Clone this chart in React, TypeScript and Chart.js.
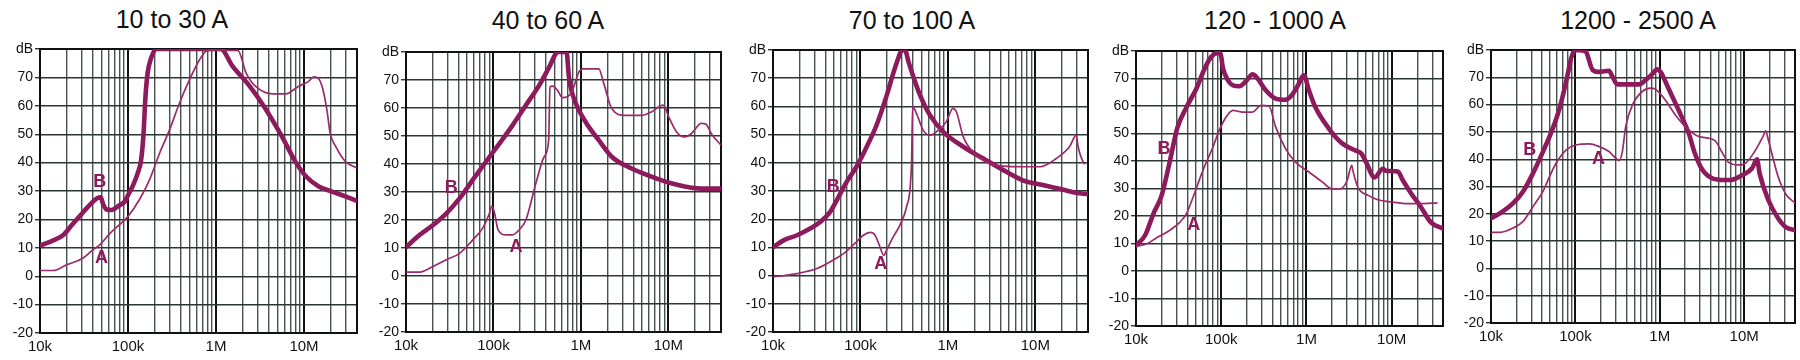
import React, { useEffect, useRef } from 'react';
import { Chart, registerables } from 'chart.js';

Chart.register(...registerables);

type Pt = [number, number];

// ---------- axis definitions ----------
const gridFreqs: number[] = [
  1e4, 2e4, 3e4, 4e4, 5e4, 6e4, 7e4, 8e4, 9e4,
  1e5, 2e5, 3e5, 4e5, 5e5, 6e5, 7e5, 8e5, 9e5,
  1e6, 2e6, 3e6, 4e6, 5e6, 6e6, 7e6, 8e6, 9e6,
  1e7, 2e7, 3e7, 4e7,
];
const decadeFreqs: number[] = [1e4, 1e5, 1e6, 1e7];
const decadeLabels: string[] = ['10k', '100k', '1M', '10M'];
const yTickValues: number[] = [-20, -10, 0, 10, 20, 30, 40, 50, 60, 70, 80];
const yTopLabel = 'dB';
const titles: string[] = ['10 to 30 A', '40 to 60 A', '70 to 100 A', '120 - 1000 A', '1200 - 2500 A'];

// ---------- series: [frequency Hz, attenuation dB] ----------
const p1A: Pt[] = [[1e4,2],[1.42e4,2],[2e4,4],[3.1e4,6.4],[4e4,9.3],[4.8e4,11.1],[6.2e4,15],[8.8e4,19.3],[1e5,21],[1.35e5,27],[1.76e5,34],[2.29e5,43.4],[2.97e5,51.6],[3.85e5,61],[5e5,69.2],[6.5e5,76.2],[7.7e5,79.2],[9e5,79.6],[1.77e6,79.5],[2.2e6,71.5],[2.8e6,66.9],[4.4e6,64.2],[6.2e6,64.2],[8.7e6,66.9],[1.13e7,68.6],[1.29e7,70.2],[1.41e7,70],[1.6e7,67],[1.82e7,58.6],[1.98e7,50.4],[2.29e7,45.7],[2.95e7,40.4],[4e7,38.1]];
const p1B: Pt[] = [[1e4,10.8],[1.4e4,12.5],[1.84e4,14.5],[2.3e4,18],[2.8e4,21],[3.7e4,25.2],[4.5e4,27.5],[4.9e4,27.8],[5.2e4,25.5],[5.7e4,23.5],[6.5e4,23.3],[8e4,25],[9.2e4,26.3],[1e5,28.5],[1.14e5,32],[1.29e5,36.3],[1.41e5,41],[1.5e5,50],[1.57e5,62],[1.67e5,71.5],[1.84e5,77],[2.09e5,80],[1.13e6,80],[1.54e6,74],[2.4e6,67],[3.6e6,59.2],[5.6e6,49.2],[8.1e6,40],[1.05e7,35.2],[1.47e7,31.6],[2.04e7,29.9],[2.95e7,28.1],[4e7,26.5]];

const p2A: Pt[] = [[1e4,1.4],[1.44e4,1.4],[2.04e4,3.4],[2.9e4,5.8],[4.1e4,8.1],[5.8e4,12.9],[7.5e4,17],[9e4,22.4],[9.6e4,25],[1.03e5,22.4],[1.13e5,16.5],[1.4e5,14.7],[1.66e5,14.7],[1.97e5,16.5],[2.35e5,20],[3.05e5,33],[3.8e5,42.6],[4.28e5,48.5],[4.43e5,67.5],[4.75e5,67.8],[5.4e5,66.3],[6.15e5,63.7],[7e5,64],[8e5,66.3],[9.5e5,72.9],[1.05e6,74],[1.6e6,74],[1.83e6,68.7],[2.25e6,59.8],[3.2e6,57.4],[5e6,57.4],[6.4e6,58.6],[8e6,60.6],[8.7e6,61],[1.03e7,56.2],[1.28e7,50.9],[1.53e7,49.7],[1.84e7,50.9],[2.38e7,54.5],[2.7e7,54.2],[3.09e7,50.9],[4e7,46.7]];
const p2B: Pt[] = [[1e4,10.3],[1.44e4,14.7],[2.04e4,18.2],[2.9e4,22.4],[4.1e4,27.7],[5.8e4,34.3],[8.2e4,40.8],[1.17e5,47.3],[1.66e5,53.9],[2.35e5,61],[3.33e5,68.1],[4.35e5,74.7],[5.18e5,79.5],[5.4e5,80],[6.85e5,80],[7.3e5,71],[8e5,65],[9.5e5,59.2],[1.23e6,53.3],[1.6e6,48.5],[2.25e6,42.6],[3.8e6,38.4],[6.4e6,35.5],[1.08e7,33.1],[1.84e7,31.5],[2.38e7,31.2],[4e7,31.2]];

const p3A: Pt[] = [[1e4,-0.5],[1.88e4,0.7],[3.18e4,2.5],[4.5e4,4.9],[6.4e4,7.8],[9e4,12],[1.08e5,14.3],[1.29e5,15.3],[1.47e5,14.3],[1.67e5,10.2],[1.85e5,7.2],[2e5,9.2],[2.37e5,13.7],[2.83e5,17.9],[3.37e5,24.4],[3.84e5,39.8],[3.95e5,60],[4.37e5,57.5],[5.2e5,51.6],[6.23e5,49.8],[7.4e5,51],[9.6e5,54.6],[1.14e6,59.3],[1.25e6,58.1],[1.5e6,49.2],[2.1e6,42.7],[3e6,39.8],[4.3e6,38.8],[7.2e6,38.6],[1.13e7,38.6],[1.73e7,41.5],[2.46e7,45.7],[2.94e7,49.8],[3.08e7,45.7],[3.5e7,40.4],[3.7e7,39.5]];
const p3B: Pt[] = [[1e4,10],[1.32e4,12.5],[1.88e4,14.3],[2.66e4,16.7],[3.46e4,19],[4.5e4,22.6],[5.35e4,26.7],[6.98e4,33.3],[9e4,38.6],[1.18e5,45.7],[1.53e5,53.4],[2e5,64],[2.37e5,71.7],[2.7e5,77],[2.95e5,79.8],[3.23e5,80],[3.54e5,75.9],[4.03e5,70.5],[4.8e5,64],[6.23e5,56.9],[8.85e5,51],[1.5e6,45.7],[2.54e6,41.5],[4.3e6,37.4],[7.2e6,33.8],[1.22e7,32.1],[2.05e7,30.5],[2.9e7,29.4],[4e7,28.9]];

const p4A: Pt[] = [[1e4,9],[1.34e4,9.9],[1.75e4,12.1],[2.5e4,14.8],[3.28e4,17.8],[3.9e4,20.8],[4.68e4,26.9],[6.1e4,36.6],[8e4,45.1],[9.5e4,51.2],[1.14e5,56],[1.37e5,58.4],[1.79e5,57.8],[2.33e5,57.8],[2.93e5,60.2],[3.64e5,59.9],[4.35e5,52.4],[5.68e5,44.5],[7.43e5,39.6],[1.07e6,36],[1.53e6,32.4],[2e6,29.9],[2.5e6,29.9],[3e6,32.9],[3.4e6,38.4],[3.5e6,36.6],[4e6,30.5],[5.3e6,27.5],[6.9e6,25.9],[1e7,25.1],[1.56e7,24.5],[2.2e7,24.5],[3.45e7,24.8]];
const p4B: Pt[] = [[1e4,9.3],[1.28e4,13],[1.6e4,20.8],[2e4,27.5],[2.5e4,40],[3.05e4,52],[3.9e4,59.5],[5.1e4,66.3],[6.4e4,73.6],[7.6e4,77.8],[9.1e4,79.3],[9.8e4,79],[1.05e5,73.6],[1.2e5,69.3],[1.37e5,67.5],[1.64e5,67.2],[1.95e5,69],[2.33e5,71.5],[2.67e5,70],[3.33e5,65.7],[4.35e5,62.7],[5.68e5,62.3],[6.83e5,64.2],[8.13e5,68.1],[9.3e5,71.2],[1.07e6,65.7],[1.27e6,59.6],[1.83e6,51.8],[2.6e6,46.5],[3.7e6,43.9],[4.4e6,42.7],[5e6,39.6],[6.3e6,34],[7.9e6,37.2],[8.6e6,36.4],[1.18e7,36.2],[1.35e7,33],[1.7e7,28.1],[2.2e7,23.3],[2.86e7,17.8],[4e7,15.4]];

const p5A: Pt[] = [[1e4,13.2],[1.28e4,13.2],[1.83e4,14.8],[2.4e4,17.2],[3.15e4,22.7],[4.13e4,28.2],[4.95e4,33.7],[5.9e4,38.5],[7.8e4,43.4],[1.01e5,45.2],[1.46e5,45.6],[1.92e5,44.6],[2.5e5,42.8],[3e5,40.4],[3.3e5,39.5],[3.6e5,42.8],[3.95e5,52],[4.75e5,59.9],[6.2e5,64.8],[7.8e5,66],[8.9e5,65.6],[1.16e6,61.7],[1.53e6,56.2],[2.2e6,50.7],[2.9e6,48.3],[4.5e6,46.8],[5.4e6,42.8],[6.5e6,38.9],[8.5e6,37.9],[1e7,38.2],[1.33e7,42.8],[1.67e7,48.3],[1.8e7,50.4],[1.93e7,47.1],[2.52e7,33.7],[3.15e7,27],[4e7,24]];
const p5B: Pt[] = [[1e4,18.4],[1.28e4,20.2],[1.83e4,23.9],[2.4e4,28.2],[3.15e4,34.9],[4.13e4,42.8],[5.4e4,51.3],[6.5e4,58.7],[8e4,70.2],[8.9e4,77],[1e5,80],[1.22e5,79.8],[1.33e5,79.4],[1.6e5,72.7],[1.9e5,72],[2.5e5,72.4],[2.75e5,70.2],[3.15e5,67.4],[3.95e5,67.4],[5.65e5,67.4],[6.8e5,69],[8.15e5,71.2],[9.3e5,72.9],[1.02e6,72],[1.29e6,65.4],[1.67e6,58],[2.2e6,49.5],[2.6e6,42.2],[3.2e6,36.1],[4.2e6,33],[5.9e6,32.4],[7e6,32.4],[9.3e6,34],[1.24e7,36.7],[1.42e7,40],[1.52e7,34.9],[1.93e7,25.1],[2.52e7,18.4],[3.15e7,15],[4e7,14]];

// curve letter anchors, in data space [frequency, dB]
const p1Letters: [string, number, number][] = [['B', 4.77e4, 33], ['A', 5e4, 6.4]];
const p2Letters: [string, number, number][] = [['B', 3.3e4, 31.3], ['A', 1.81e5, 10.5]];
const p3Letters: [string, number, number][] = [['B', 4.9e4, 31.5], ['A', 1.71e5, 4]];
const p4Letters: [string, number, number][] = [['B', 2.13e4, 44.5], ['A', 4.76e4, 16.6]];
const p5Letters: [string, number, number][] = [['B', 2.88e4, 43.4], ['A', 1.88e5, 40]];

const seriesA = [p1A, p2A, p3A, p4A, p5A];
const seriesB = [p1B, p2B, p3B, p4B, p5B];
const letters = [p1Letters, p2Letters, p3Letters, p4Letters, p5Letters];

// ---------- layout (pixels) ----------
const layouts = [
  { left: 40, right: 357, top: 49, bottom: 333, titleX: 172, titleTop: 5 },
  { left: 406, right: 721, top: 52, bottom: 332, titleX: 548, titleTop: 6 },
  { left: 773, right: 1088, top: 50, bottom: 332, titleX: 912, titleTop: 6 },
  { left: 1136, right: 1443, top: 51, bottom: 326, titleX: 1275, titleTop: 6 },
  { left: 1491, right: 1795, top: 50, bottom: 323, titleX: 1638, titleTop: 6 },
];

const FONT = "'Liberation Sans', Arial, Helvetica, sans-serif";
const CURVE = '#8c1a5c';
const CURVE_THIN = '#9a2a6c';
const H = 360;
const YAXIS_W = 40;

const framePlugin = {
  id: 'frame',
  beforeDatasetsDraw(chart: any) {
    const { ctx, chartArea: a } = chart;
    ctx.save();
    ctx.strokeStyle = '#111';
    ctx.lineWidth = 2;
    ctx.strokeRect(a.left, a.top, a.right - a.left, a.bottom - a.top);
    ctx.restore();
  },
};

const letterPlugin = {
  id: 'letters',
  afterDatasetsDraw(chart: any, _args: any, opts: any) {
    const items: [string, number, number][] = opts.items || [];
    const { ctx } = chart;
    const xs = chart.scales.x;
    const ys = chart.scales.y;
    ctx.save();
    ctx.fillStyle = CURVE;
    ctx.font = `bold 18px ${FONT}`;
    ctx.textAlign = 'center';
    ctx.textBaseline = 'middle';
    for (const [t, fx, fy] of items) {
      ctx.fillText(t, xs.getPixelForValue(fx), ys.getPixelForValue(fy));
    }
    ctx.restore();
  },
};

function Panel({ idx }: { idx: number }) {
  const ref = useRef<HTMLCanvasElement>(null);
  const lay = layouts[idx];
  const rightPad = Math.min(8, 1800 - lay.right);
  const width = lay.right - lay.left + YAXIS_W + rightPad;

  useEffect(() => {
    if (!ref.current) return;
    const chart = new Chart(ref.current, {
      type: 'line',
      data: {
        datasets: [
          {
            data: seriesA[idx].map(([x, y]) => ({ x, y })),
            borderColor: CURVE_THIN,
            borderWidth: 1.7,
            pointRadius: 0,
            fill: false,
            cubicInterpolationMode: 'monotone',
          },
          {
            data: seriesB[idx].map(([x, y]) => ({ x, y })),
            borderColor: CURVE,
            borderWidth: 4.6,
            pointRadius: 0,
            fill: false,
            cubicInterpolationMode: 'monotone',
            borderCapStyle: 'round',
            borderJoinStyle: 'round',
          },
        ],
      },
      options: {
        animation: false,
        responsive: false,
        maintainAspectRatio: false,
        events: [],
        layout: { padding: { top: lay.top, left: 0, right: rightPad, bottom: 0 } },
        plugins: {
          legend: { display: false },
          tooltip: { enabled: false },
          title: { display: false },
          letters: { items: letters[idx] },
        } as any,
        scales: {
          x: {
            type: 'logarithmic',
            min: 1e4,
            max: 4e7,
            afterBuildTicks: (s: any) => {
              s.ticks = gridFreqs.map((v) => ({ value: v }));
            },
            afterFit: (s: any) => {
              s.height = H - lay.bottom;
            },
            ticks: {
              autoSkip: false,
              maxRotation: 0,
              minRotation: 0,
              padding: 5,
              color: '#111',
              font: { family: FONT, size: 15 },
              callback: (v: any) => {
                const i = decadeFreqs.indexOf(Number(v));
                return i >= 0 ? decadeLabels[i] : '';
              },
            },
            grid: {
              drawTicks: false,
              color: (c: any) => (decadeFreqs.includes(c.tick?.value) ? '#111' : '#46524f'),
              lineWidth: (c: any) => (decadeFreqs.includes(c.tick?.value) ? 2 : 1.4),
            },
            border: { display: false },
          },
          y: {
            type: 'linear',
            min: -20,
            max: 80,
            afterBuildTicks: (s: any) => {
              s.ticks = yTickValues.map((v) => ({ value: v }));
            },
            afterFit: (s: any) => {
              s.width = YAXIS_W;
            },
            ticks: {
              padding: 2,
              color: '#111',
              font: { family: FONT, size: 14 },
              callback: (v: any) => (Number(v) === 80 ? yTopLabel : String(v)),
            },
            grid: {
              tickLength: 5,
              color: '#2c3634',
              lineWidth: 1.4,
            },
            border: { display: false },
          },
        },
      } as any,
      plugins: [framePlugin, letterPlugin],
    });
    return () => chart.destroy();
  }, [idx]);

  return (
    <>
      <div
        style={{
          position: 'absolute',
          left: lay.titleX - 150,
          top: lay.titleTop,
          width: 300,
          textAlign: 'center',
          fontFamily: FONT,
          fontSize: 25,
          color: '#111',
          whiteSpace: 'nowrap',
        }}
      >
        {titles[idx]}
      </div>
      <canvas
        ref={ref}
        width={width}
        height={H}
        style={{ position: 'absolute', left: lay.left - YAXIS_W, top: 0, width, height: H }}
      />
    </>
  );
}

export default function App() {
  return (
    <div
      style={{
        position: 'absolute',
        left: 0,
        top: 0,
        width: 1800,
        height: 360,
        background: '#fff',
        overflow: 'hidden',
      }}
    >
      {layouts.map((_, i) => (
        <Panel key={i} idx={i} />
      ))}
    </div>
  );
}
